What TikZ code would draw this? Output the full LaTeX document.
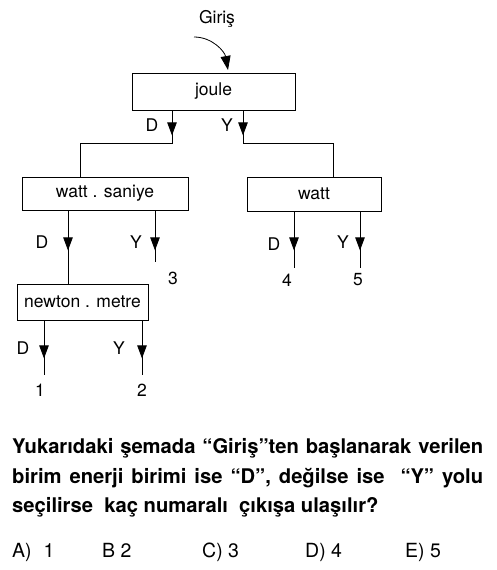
\documentclass[tikz,border=0pt]{standalone}
\usepackage{fontspec}
\setmainfont{TeX Gyre Heros}
\usetikzlibrary{arrows.meta,decorations.markings}
\begin{document}
\begin{tikzpicture}[x=1pt,y=-1pt,
  box/.style={draw,line width=0.8pt,inner sep=0pt,font=\fontsize{17.5}{20}\selectfont},
  lbl/.style={inner sep=0pt,font=\fontsize{17.5}{20}\selectfont},
  conn/.style={line width=0.8pt},
  arr/.style={conn,postaction={decorate},decoration={markings,mark=at position #1 with {\arrow{Triangle[length=13pt,width=9.5pt]}}}},
  qtext/.style={inner sep=0pt,anchor=base west,font=\fontsize{20.2}{24}\selectfont\bfseries},
  atext/.style={inner sep=0pt,anchor=base west,font=\fontsize{19.5}{23}\selectfont}]
\useasboundingbox (0,0) rectangle (496,570);

% boxes
\node[box,minimum width=163pt,minimum height=37pt] (joule) at (213.5,91.5) {joule};
\node[box,minimum width=166pt,minimum height=33pt] (ws) at (105,193.5) {watt . saniye};
\node[box,minimum width=134pt,minimum height=34pt] (watt) at (314,194) {watt};
\node[box,minimum width=131pt,minimum height=36pt] (nm) at (82.5,302) {newton . metre};

% entry
\node[lbl] (giris) at (217,19) {Giriş};
\coordinate (gs) at (194,37);
\coordinate (ge) at (228,70);
\draw[conn,-{Triangle[length=14pt,width=10pt]}] (gs) to[out=0,in=100] (ge);

% x positions
\coordinate (xjd) at (172,0);
\coordinate (xjy) at (243,0);
\coordinate (xwsd) at (68,0);
\coordinate (xwsy) at (155,0);
\coordinate (xwd) at (294,0);
\coordinate (xwy) at (360,0);
\coordinate (xnd) at (44,0);
\coordinate (xny) at (142,0);

% outputs
\node[lbl] (o1) at (40,390) {1};
\node[lbl] (o2) at (142,390) {2};
\node[lbl] (o3) at (173,278) {3};
\node[lbl] (o4) at (287,280) {4};
\node[lbl] (o5) at (358,280) {5};
\coordinate (e3) at (155,262);
\coordinate (e4) at (294,268);
\coordinate (e5) at (360,268);
\coordinate (e1) at (44,375);
\coordinate (e2) at (142,375);

% joule branches
\draw[arr=25pt] (joule.south -| xjd) -- (172,143) -| (ws.north -| 80,0);
\draw[arr=25pt] (joule.south -| xjy) -- (243,143) -| (watt.north -| 333,0);

% watt . saniye branches
\draw[arr=40pt] (ws.south -| xwsd) -- (nm.north -| xwsd);
\draw[arr=40pt] (ws.south -| xwsy) -- (e3);

% watt branches
\draw[arr=39pt] (watt.south -| xwd) -- (e4);
\draw[arr=39pt] (watt.south -| xwy) -- (e5);

% newton . metre branches
\draw[arr=38pt] (nm.south -| xnd) -- (e1);
\draw[arr=38pt] (nm.south -| xny) -- (e2);

% D / Y labels
\node[lbl] (jD) at (152,125) {D};
\node[lbl] (jY) at (227,125) {Y};
\node[lbl] (wsD) at (42,242) {D};
\node[lbl] (wsY) at (136,242) {Y};
\node[lbl] (wD) at (274,244) {D};
\node[lbl] (wY) at (343,242) {Y};
\node[lbl] (nD) at (23,348) {D};
\node[lbl] (nY) at (119,348) {Y};

% question
\node[qtext] (q1) at (12,453) {\makebox[471pt][s]{Yukarıdaki şemada “Giriş”ten başlanarak verilen}};
\node[qtext] (q2) at (12,483) {\makebox[471pt][s]{birim enerji birimi ise “D”, değilse ise \ “Y” yolu}};
\node[qtext] (q3) at (12,512) {seçilirse\ \ kaç numaralı\ \ çıkışa ulaşılır?};

% answers
\node[atext] (aA) at (12,557) {A)\hspace{12pt}1};
\node[atext] (aB) at (102,557) {B 2};
\node[atext] (aC) at (202,557) {C) 3};
\node[atext] (aD) at (305,557) {D) 4};
\node[atext] (aE) at (405,557) {E) 5};
\end{tikzpicture}
\end{document}
